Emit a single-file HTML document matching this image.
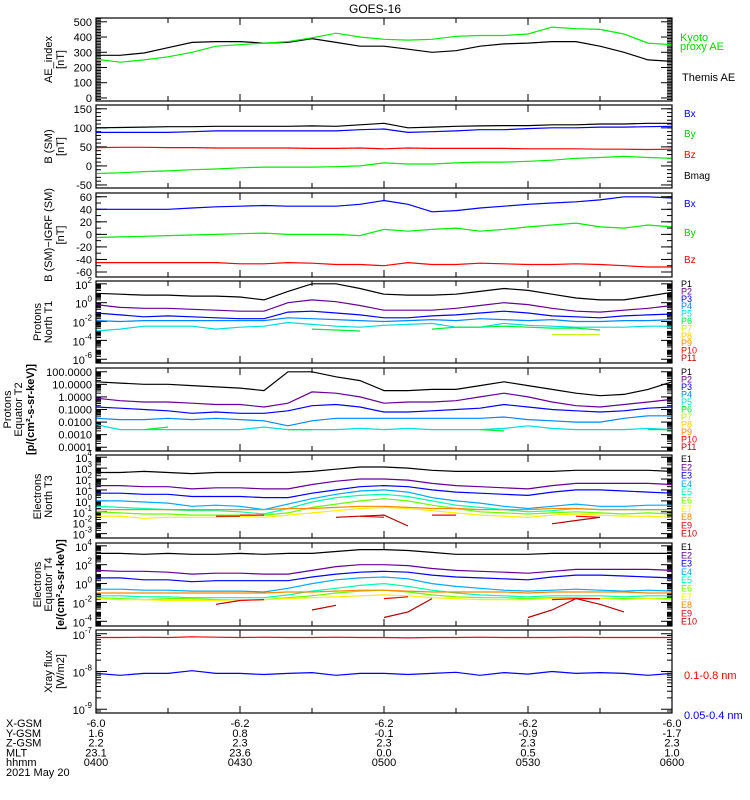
<!DOCTYPE html>
<html><head><meta charset="utf-8"><style>
body{margin:0;background:#fff;}
svg{display:block;font-family:"Liberation Sans",sans-serif;}
</style></head><body>
<svg id="c" width="750" height="800" viewBox="0 0 750 800"></svg>
<script>
const T=[0,5,10,15,20,25,30,35,40,45,50,55,60,65,70,75,80,85,90,95,100,105,110,115,120];
// AE panel
const aeThemis=[280,280,295,330,365,370,370,360,365,390,365,340,340,320,300,310,340,355,360,370,370,340,300,250,240];
const aeKyoto=[255,235,250,270,300,340,350,360,370,395,425,400,385,380,385,405,410,410,420,465,455,450,420,360,350];
// B(SM)
const bBmag=[100,101,102,103,103,104,104,104,104,105,104,108,112,100,102,104,105,106,106,108,108,110,110,112,112];
const bBx=[88,88,88,88,90,92,92,92,92,92,92,95,97,88,90,92,95,95,98,100,100,102,102,103,104];
const bBz=[48,49,49,48,48,47,47,47,47,46,46,47,45,47,46,46,46,46,45,45,45,44,44,43,44];
const bBy=[-20,-18,-15,-13,-10,-8,-5,-3,-3,-3,-2,0,8,5,5,8,10,10,12,15,20,22,25,22,20];
// B(SM)-IGRF
const dBx=[40,40,40,40,42,44,45,46,45,45,45,48,54,48,36,38,42,45,48,50,52,55,60,60,58];
const dBy=[-5,-4,-3,-2,-1,0,1,2,0,0,0,-2,8,5,8,10,5,8,12,15,18,12,10,15,12];
const dBz=[-45,-45,-45,-45,-45,-45,-47,-47,-45,-46,-48,-48,-50,-45,-48,-48,-46,-47,-48,-48,-47,-48,-50,-52,-52];
// Protons North T1 (log10)
const pn1=[1.0,0.9,0.8,0.8,0.7,0.7,0.6,0.3,1.2,2.0,2.0,1.5,0.9,0.8,0.8,0.9,1.2,1.5,1.3,0.9,0.5,0.3,0.3,0.7,1.1];
const pn2=[-0.2,-0.5,-0.6,-0.6,-0.7,-0.8,-0.9,-0.9,0,0.3,0.1,-0.3,-0.8,-0.8,-0.8,-0.6,-0.3,0,-0.2,-0.6,-0.9,-1,-0.8,-0.6,-0.3];
const pn3=[-1.1,-1.3,-1.5,-1.4,-1.5,-1.6,-1.7,-1.7,-1,-0.9,-1.1,-1.3,-1.6,-1.6,-1.4,-1.3,-1.1,-0.9,-1.1,-1.4,-1.5,-1.6,-1.4,-1.3,-1.2];
const pn4=[-1.9,-2,-1.9,-1.9,-1.9,-1.9,-1.9,-1.9,-1.6,-1.7,-1.8,-1.9,-2,-1.9,-1.8,-1.9,-1.7,-1.8,-1.9,-1.8,-2,-2,-1.9,-1.9,-1.8];
const pn5=[-3,-2.8,-2.5,-2.5,-2.5,-2.8,-2.6,-2.5,-2.1,-2.3,-2.5,-2.6,-2.4,-2.3,-2.2,-2.6,-2.6,-2.2,-2.4,-2.5,-2.6,-2.6,-2.6,-2.5,-2.5];
const pn6=[null,null,null,null,null,null,null,null,null,-2.8,-2.9,-3.0,null,null,-2.8,-2.6,-2.6,-2.5,-2.6,-2.7,-2.7,-2.9,null,null,null];
const pn8=[null,null,null,null,null,null,null,null,null,null,null,null,null,null,null,null,null,null,null,-3.4,-3.4,-3.4,null,null,null];
// Protons Equator T2 (log10)
const pe1=[1.2,1.1,1.0,1.0,0.9,0.8,0.7,0.5,2.0,2.0,1.6,1.3,0.5,0.5,0.6,0.6,0.9,1.2,0.9,0.6,0.3,0.1,0.2,0.6,1.2];
const pe2=[-0.1,-0.3,-0.4,-0.4,-0.5,-0.6,-0.6,-0.8,-0.5,0.4,0.3,0,-0.5,-0.4,-0.4,-0.3,0,0.3,0,-0.4,-0.7,-0.8,-0.6,-0.4,-0.2];
const pe3=[-0.8,-0.9,-1,-1.1,-1.3,-1.2,-1.3,-1.3,-1.1,-0.7,-0.6,-0.8,-1.2,-1.2,-1.1,-1,-0.9,-0.6,-0.8,-1,-1.1,-1.2,-1.1,-0.9,-0.8];
const pe4=[-1.7,-1.8,-1.8,-1.7,-1.8,-1.7,-1.8,-1.9,-2.3,-1.9,-1.7,-1.7,-1.7,-1.7,-1.7,-1.7,-1.7,-1.6,-1.8,-1.9,-2.0,-2.0,-1.7,-1.5,-1.5];
const pe5=[-2.2,-2.6,-2.6,-2.6,-2.6,-2.6,-2.6,-2.4,-2.6,-2.6,-2.6,-2.5,-2.6,-2.5,-2.6,-2.6,-2.6,-2.5,-2.3,-2.5,-2.6,-2.6,-2.6,-2.5,-2.6];
const pe6=[null,null,-2.6,-2.4,null,null,null,null,-2.6,-2.6,null,null,null,null,null,null,-2.6,-2.7,null,null,null,null,null,-2.6,-2.6];
// Electrons North T3 (log10)
const en1=[2.6,2.6,2.7,2.6,2.5,2.6,2.6,2.6,2.6,2.7,2.9,3.1,3.1,3.0,2.8,2.7,2.7,2.7,2.7,2.7,2.8,2.8,2.8,2.8,2.7];
const en2=[1.4,1.4,1.3,1.3,1.1,1.2,1.2,1.1,1.1,1.5,1.8,2.0,2.0,1.9,1.6,1.4,1.3,1.2,1.1,1.4,1.6,1.6,1.6,1.6,1.5];
const en3=[0.7,0.7,0.6,0.6,0.4,0.4,0.4,0.3,0.3,0.7,1.0,1.3,1.4,1.3,1.0,0.8,0.7,0.6,0.5,0.8,1.0,1.0,0.9,0.8,0.7];
const en4=[0,0,-0.1,-0.2,-0.5,-0.4,-0.5,-0.8,-0.3,0.2,0.6,0.9,1.0,0.8,0.3,0,-0.2,-0.5,-0.7,-0.5,-0.3,-0.5,-0.5,-0.4,-0.4];
const en5=[-0.5,-0.6,-0.7,-0.8,-0.9,-0.9,-1.0,-1.2,-0.7,-0.1,0.3,0.5,0.6,0.4,0,-0.4,-0.6,-0.8,-1.0,-0.9,-0.7,-0.8,-0.8,-0.8,-0.8];
const en6=[-1.0,-1.1,-1.2,-1.2,-1.3,-1.3,-1.3,-1.3,-1.1,-0.6,-0.3,0,0.2,0,-0.4,-0.7,-1.0,-1.1,-1.2,-1.1,-1.0,-1.1,-1.2,-1.1,-1.2];
const en7=[-1.4,-1.4,-1.6,-1.5,-1.5,-1.5,-1.4,-1.5,-1.3,-1.1,-0.9,-0.7,-0.6,-0.7,-0.9,-1.1,-1.3,-1.4,-1.5,-1.3,-1.2,-1.3,-1.4,-1.4,-1.5];
const en8=[-0.8,-0.8,-0.8,-0.8,-0.8,-0.8,-0.8,-0.8,-0.7,-0.7,-0.6,-0.5,-0.5,-0.6,-0.7,-0.7,-0.8,-0.8,-0.8,-0.7,-0.7,-0.8,-0.8,-0.8,-0.8];
const en9=[null,null,null,null,null,null,-1.3,-1.3,null,null,null,-1.4,-1.5,null,-1.3,-1.3,null,null,null,null,-1.4,-1.5,null,null,null];
const en10=[null,null,null,null,null,-1.4,-1.4,null,null,null,-1.5,-1.4,-1.3,-2.3,null,null,null,null,null,-2.1,-1.8,-1.5,null,null,null];
// Electrons Equator T4 (log10)
const ee1=[3.2,3.2,3.1,3.2,3.1,3.1,3.2,3.1,3.2,3.2,3.4,3.6,3.6,3.5,3.3,3.1,3.1,3.1,3.1,3.2,3.2,3.2,3.2,3.2,3.2];
const ee2=[1.4,1.3,1.3,1.2,1.0,1.1,1.1,1.0,1.0,1.4,1.8,2.0,2.0,1.9,1.6,1.4,1.3,1.2,1.1,1.3,1.5,1.5,1.5,1.5,1.4];
const ee3=[0.6,0.6,0.4,0.4,0.2,0.3,0.3,0.3,0.3,0.7,1.0,1.2,1.3,1.2,0.9,0.7,0.6,0.5,0.4,0.7,0.9,0.9,0.8,0.7,0.6];
const ee4=[-0.6,-0.6,-0.7,-0.7,-0.8,-0.8,-0.8,-0.9,-0.5,0,0.4,0.6,0.7,0.5,0,-0.3,-0.5,-0.7,-0.8,-0.7,-0.6,-0.7,-0.8,-0.7,-0.8];
const ee5=[-1.3,-1.3,-1.4,-1.4,-1.5,-1.5,-1.5,-1.5,-1.2,-0.8,-0.5,-0.2,0,-0.3,-0.7,-1,-1.2,-1.3,-1.4,-1.3,-1.3,-1.3,-1.4,-1.3,-1.3];
const ee6=[-1.5,-1.6,-1.7,-1.6,-1.6,-1.7,-1.7,-1.7,-1.5,-1.3,-1.0,-0.8,-0.7,-0.9,-1.2,-1.4,-1.5,-1.5,-1.6,-1.5,-1.5,-1.6,-1.6,-1.6,-1.6];
const ee7=[-1.6,-1.7,-1.7,-1.8,-1.8,-1.8,-1.7,-1.7,-1.6,-1.5,-1.4,-1.3,-1.2,-1.3,-1.5,-1.6,-1.7,-1.7,-1.7,-1.6,-1.6,-1.6,-1.7,-1.6,-1.7];
const ee8=[-1.0,-1.0,-1.0,-1.0,-1.0,-1.0,-1.0,-1.0,-0.9,-0.9,-0.8,-0.7,-0.7,-0.8,-0.9,-0.9,-0.9,-0.9,-1.0,-0.9,-0.9,-0.9,-0.9,-1.0,-1.0];
const ee9=[null,null,null,null,null,null,-1.8,-1.7,null,null,null,null,-1.6,-1.4,null,null,null,null,null,-1.7,-1.6,-1.6,null,null,null];
const ee10=[null,null,null,null,null,-2.2,-1.8,null,null,-2.8,-2.3,null,-3.6,-3.0,-1.6,null,null,null,-3.6,-2.8,-1.6,-2.2,-3.0,null,null];
// X-ray (log10 W/m2)
const xLong=[-7.1,-7.1,-7.09,-7.1,-7.08,-7.09,-7.1,-7.09,-7.1,-7.1,-7.09,-7.1,-7.1,-7.11,-7.1,-7.1,-7.09,-7.1,-7.1,-7.1,-7.09,-7.1,-7.1,-7.1,-7.1];
const xShort=[-8.05,-8.1,-8.05,-8.05,-7.98,-8.05,-8.05,-8.08,-8.05,-8.03,-8.1,-8.05,-8.05,-8.08,-8.05,-8.02,-8.1,-8.03,-8.07,-8.0,-8.05,-8.03,-8.05,-8.1,-8.05];
const xTickLabels=["-6.0","-6.2","-6.2","-6.2","-6.0"];
const yGsm=["1.6","0.8","-0.1","-0.9","-1.7"];
const zGsm=["2.2","2.3","2.3","2.3","2.3"];
const mlt=["23.1","23.6","0.0","0.5","1.0"];
const hhmm=["0400","0430","0500","0530","0600"];

const NS="http://www.w3.org/2000/svg";
const svg=document.getElementById('c');
const X0=96,X1=672,TMAX=120;
const xs=t=>X0+(X1-X0)*t/TMAX;
function el(tag,attrs,parent){const e=document.createElementNS(NS,tag);for(const k in attrs)e.setAttribute(k,attrs[k]);(parent||svg).appendChild(e);return e;}
function txt(x,y,s,opt,parent){const e=el('text',Object.assign({x:x,y:y,'font-size':11,fill:'#000'},opt||{}),parent);e.textContent=s;return e;}

const panels=[
 {name:'ae-index',top:18,bot:101,min:-20,max:525,log:false,major:[0,100,200,300,400,500],labels:['0','100','200','300','400','500'],minor:10,ylab:['AE_index','[nT]'],lx:[52,64],
  series:[[aeThemis,'#000'],[aeKyoto,'#00ee00']],
  leg:[['Kyoto',680,41,'#00dd00',11],['proxy AE',680,50,'#00dd00',11],['Themis AE',682,81,'#000',11]]},
 {name:'b-sm',top:105,bot:188,min:-58,max:160,log:false,major:[-50,0,50,100,150],labels:['-50','0','50','100','150'],minor:10,ylab:['B (SM)','[nT]'],lx:[52,64],
  series:[[bBmag,'#000'],[bBx,'#0000ff'],[bBz,'#ff0000'],[bBy,'#00ee00']],
  leg:[['Bx',684,117,'#0000ff',10],['By',684,137,'#00cc00',10],['Bz',684,158,'#ff0000',10],['Bmag',684,179,'#000',10]]},
 {name:'b-sm-minus-igrf',top:193,bot:277,min:-68,max:66,log:false,major:[-60,-40,-20,0,20,40,60],labels:['-60','-40','-20','0','20','40','60'],minor:10,ylab:['B (SM)−IGRF (SM)','[nT]'],lx:[52,64],
  series:[[dBx,'#0000ff'],[dBy,'#00ee00'],[dBz,'#ff0000']],
  leg:[['Bx',684,207,'#0000ff',10],['By',684,236,'#00cc00',10],['Bz',684,263,'#ff0000',10]]},
 {name:'protons-north-t1',top:281,bot:363,min:-6.4,max:2.3,log:true,major:[-6,-4,-2,0,2],labels:['-6','-4','-2','0','2'],sup:true,ylab:['Protons','North T1'],lx:[41,52],
  series:[[pn1,'#000'],[pn2,'#660099'],[pn3,'#0000ff'],[pn4,'#0088ff'],[pn5,'#00dddd'],[pn6,'#00ee33'],[pn8,'#ccee00']],
  legP:['P',11,283,7.4]},
 {name:'protons-equator-t2',top:368,bot:451,min:-4.3,max:2.3,log:true,major:[-4,-3,-2,-1,0,1,2],labels:['0.0001','0.0010','0.0100','0.1000','1.0000','10.0000','100.0000'],ylab:['Protons','Equator T2','[p/(cm²-s-sr-keV)]'],lx:[11,22,34],
  series:[[pe1,'#000'],[pe2,'#660099'],[pe3,'#0000ff'],[pe4,'#0088ff'],[pe5,'#00dddd'],[pe6,'#00ee33']],
  legP:['P',11,371,7.5]},
 {name:'electrons-north-t3',top:455,bot:538,min:-3.4,max:4.2,log:true,major:[-3,-2,-1,0,1,2,3,4],labels:['-3','-2','-1','0','1','2','3','4'],sup:true,ylab:['Electrons','North T3'],lx:[41,52],
  series:[[en1,'#000'],[en2,'#660099'],[en3,'#0000ff'],[en4,'#00aaff'],[en5,'#00ffaa'],[en6,'#66ff00'],[en7,'#ffee00'],[en8,'#ff8800'],[en9,'#ff0000'],[en10,'#bb0000']],
  legP:['E',10,458,8.3]},
 {name:'electrons-equator-t4',top:543,bot:626,min:-4.5,max:4.3,log:true,major:[-4,-2,0,2,4],labels:['-4','-2','0','2','4'],sup:true,ylab:['Electrons','Equator T4','[e/(cm²-s-sr-keV)]'],lx:[41,52,64],
  series:[[ee1,'#000'],[ee2,'#660099'],[ee3,'#0000ff'],[ee4,'#00aaff'],[ee5,'#00ffaa'],[ee6,'#66ff00'],[ee7,'#ffee00'],[ee8,'#ff8800'],[ee9,'#ff0000'],[ee10,'#bb0000']],
  legP:['E',10,546,8.3]},
 {name:'xray-flux',top:630,bot:713,min:-9.1,max:-6.9,log:true,major:[-9,-8,-7],labels:['-9','-8','-7'],sup:true,ylab:['Xray flux','[W/m2]'],lx:[52,64],
  series:[[xLong,'#ff0000'],[xShort,'#0000ff']],
  leg:[['0.1-0.8 nm',684,679,'#ff0000',11],['0.05-0.4 nm',684,719,'#0000ff',11]]}
];
const pColors=['#000','#660099','#0000ff','#0088ff','#00dddd','#00ee33','#ccee00','#ffcc00','#ff8800','#ff0000','#bb0000'];
const eColors=['#000','#660099','#0000ff','#00aaff','#00ffaa','#66ff00','#ffee00','#ff8800','#ff0000','#bb0000'];

const title=txt(375,13,'GOES-16',{'text-anchor':'middle','font-size':12});



panels.forEach(p=>{
  const g=el('g',{});
  
  
  const ys=v=>p.bot-(p.bot-p.top)*(v-p.min)/(p.max-p.min);
  const tk=(v,len)=>{const y=ys(v);if(y<p.top-0.1||y>p.bot+0.1)return;
    el('line',{x1:X0,x2:X0+len,y1:y,y2:y,stroke:'#000','stroke-width':1},g);
    el('line',{x1:X1-len,x2:X1,y1:y,y2:y,stroke:'#000','stroke-width':1},g);};
  if(p.log){
    for(let d=Math.floor(p.min);d<=Math.ceil(p.max);d++){for(let k=2;k<10;k++)tk(d+Math.log10(k),5);}
  } else {
    for(let v=Math.ceil(p.min/p.minor)*p.minor;v<=p.max;v+=p.minor)tk(v,5);
  }
  p.major.forEach((v,i)=>{tk(v,11);
    const y=ys(v)+4;
    if(p.sup){const t=txt(92,y+1,'10',{'text-anchor':'end','font-size':11},g);
      const s=el('tspan',{dy:-6,'font-size':8},t);s.textContent=p.labels[i];
    } else txt(92,y,p.labels[i],{'text-anchor':'end','font-size':11},g);
  });
  for(let t=0;t<=TMAX;t+=15){const x=xs(t);const L=(t%30===0)?7:5;
    el('line',{x1:x,x2:x,y1:p.bot,y2:p.bot-L,stroke:'#000'},g);
    el('line',{x1:x,x2:x,y1:p.top,y2:p.top+L,stroke:'#000'},g);}
  p.series.forEach(([arr,col],si)=>{
    let seg=[];
    const flush=()=>{if(seg.length>1){const pl=el('polyline',{points:seg.join(' '),fill:'none',stroke:col,'stroke-width':1.2},g);
      
      }seg=[];};
    arr.forEach((v,i)=>{if(v===null||v===undefined){flush();return;}
      const y=Math.max(p.top,Math.min(p.bot,ys(v)));seg.push(xs(T[i]).toFixed(1)+','+y.toFixed(1));});
    flush();
  });
  el('rect',{x:X0,y:p.top,width:X1-X0,height:p.bot-p.top,fill:'none',stroke:'#000','stroke-width':1.2},g);
  const cy=(p.top+p.bot)/2;
  p.ylab.forEach((s,i)=>{
    const tx=p.lx[i];
    const t=txt(0,0,s,{'text-anchor':'middle','font-size':i===2?11:11,transform:`translate(${tx},${cy}) rotate(-90)`,'font-weight':i===2?'bold':'normal'},g);
    
    
  });
  if(p.leg)p.leg.forEach(([s,x,y,c,fs])=>{const t=txt(x,y,s,{fill:c,'font-size':fs},g);
    
    });
  if(p.legP){const [pre,cnt,y0,dy]=p.legP;const cols=pre==='P'?pColors:eColors;
    for(let i=0;i<cnt;i++){const t=txt(681,y0+i*dy+4,pre+(i+1),{fill:cols[i],'font-size':9},g);
      
      }}
});

const rows=[['X-GSM',xTickLabels],['Y-GSM',yGsm],['Z-GSM',zGsm],['MLT',mlt],['hhmm',hhmm]];
rows.forEach(([lab,vals],r)=>{
  const y=727+r*9.8;
  const t=txt(6,y,lab,{'font-size':11});
  
  
  vals.forEach((v,i)=>{const tt=txt(96+i*144,y,v,{'text-anchor':'middle','font-size':11});
    
    });
});
const d=txt(6,776,'2021 May 20',{'font-size':11});


</script>
</body></html>
